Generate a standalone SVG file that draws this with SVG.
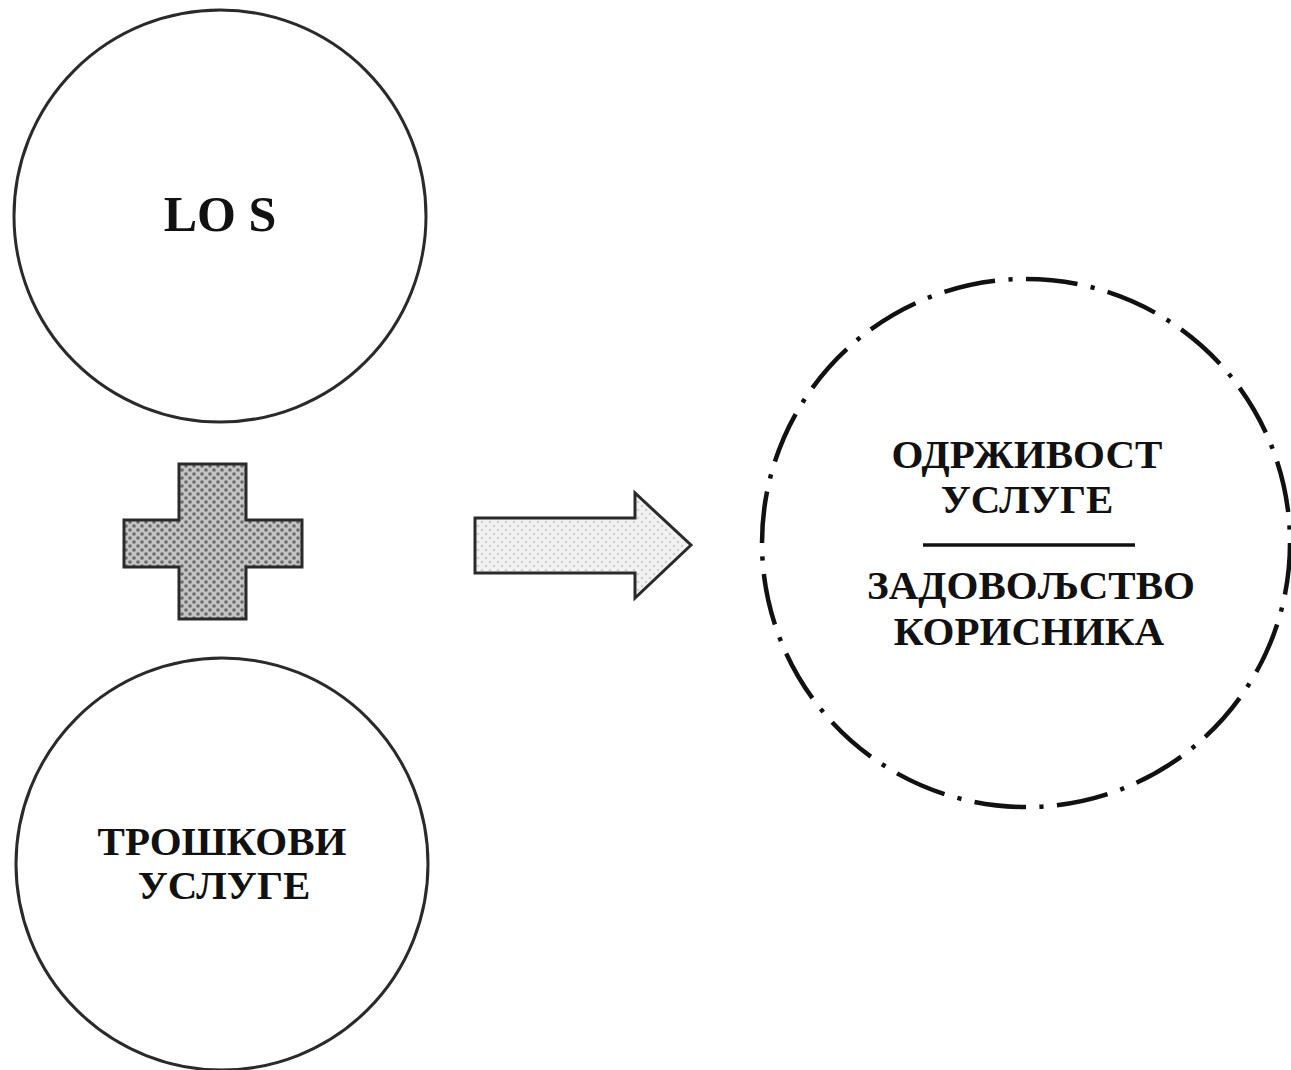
<svg xmlns="http://www.w3.org/2000/svg" width="1291" height="1070" viewBox="0 0 1291 1070">
  <style>
    .ring { fill: none; stroke: #2a2a2a; stroke-width: 3; }
    .dashring { fill: none; stroke: #111; stroke-width: 4.5; stroke-dasharray: 50 13 4 13; stroke-linecap: butt; }
    .lbl { font-family: "Liberation Serif", "Times New Roman", serif; font-weight: bold; fill: #111; text-anchor: middle; }
    .big { font-size: 50px; }
    .mid { font-size: 41px; }
    .shape { stroke: #2a2a2a; stroke-width: 3; stroke-linejoin: miter; }
  </style>
  <defs>
    <pattern id="dots" width="8" height="8" patternUnits="userSpaceOnUse">
      <rect width="8" height="8" fill="#c4c4c4"/>
      <circle cx="2" cy="2" r="1.8" fill="#6a6a6a"/>
      <circle cx="6" cy="6" r="1.8" fill="#6a6a6a"/>
    </pattern>
    <pattern id="lightdots" width="8" height="8" patternUnits="userSpaceOnUse">
      <rect width="8" height="8" fill="#f2f2f2"/>
      <circle cx="2" cy="2" r="1.3" fill="#d0d0d0"/>
      <circle cx="6" cy="6" r="1.3" fill="#d0d0d0"/>
    </pattern>
  </defs>
  <rect width="1291" height="1070" fill="#ffffff"/>

  <g id="node-los">
    <circle class="ring" cx="220" cy="216" r="206"/>
    <text class="lbl big" x="220" y="231">LO S</text>
  </g>

  <g id="node-plus">
    <path class="shape" fill="url(#dots)" d="M179 464 H246 V520 H302 V567 H246 V619 H179 V567 H124 V520 H179 Z"/>
  </g>

  <g id="node-troskovi">
    <circle class="ring" cx="222" cy="864" r="206"/>
    <text class="lbl mid" x="222" y="855">ТРОШКОВИ</text>
    <text class="lbl mid" x="224" y="899">УСЛУГЕ</text>
  </g>

  <g id="connectors">
    <path class="shape" fill="url(#lightdots)" d="M475 518 H635 V493 L691 545 L635 598 V573 H475 Z"/>
  </g>

  <g id="node-result">
    <circle class="dashring" cx="1026" cy="543" r="264" pathLength="1600"/>
    <text class="lbl mid" x="1027" y="468">ОДРЖИВОСТ</text>
    <text class="lbl mid" x="1027" y="513">УСЛУГЕ</text>
    <line x1="923" y1="545" x2="1135" y2="545" stroke="#111" stroke-width="3.5"/>
    <text class="lbl mid" x="1031" y="599">ЗАДОВОЉСТВО</text>
    <text class="lbl mid" x="1029" y="645">КОРИСНИКА</text>
  </g>
</svg>
